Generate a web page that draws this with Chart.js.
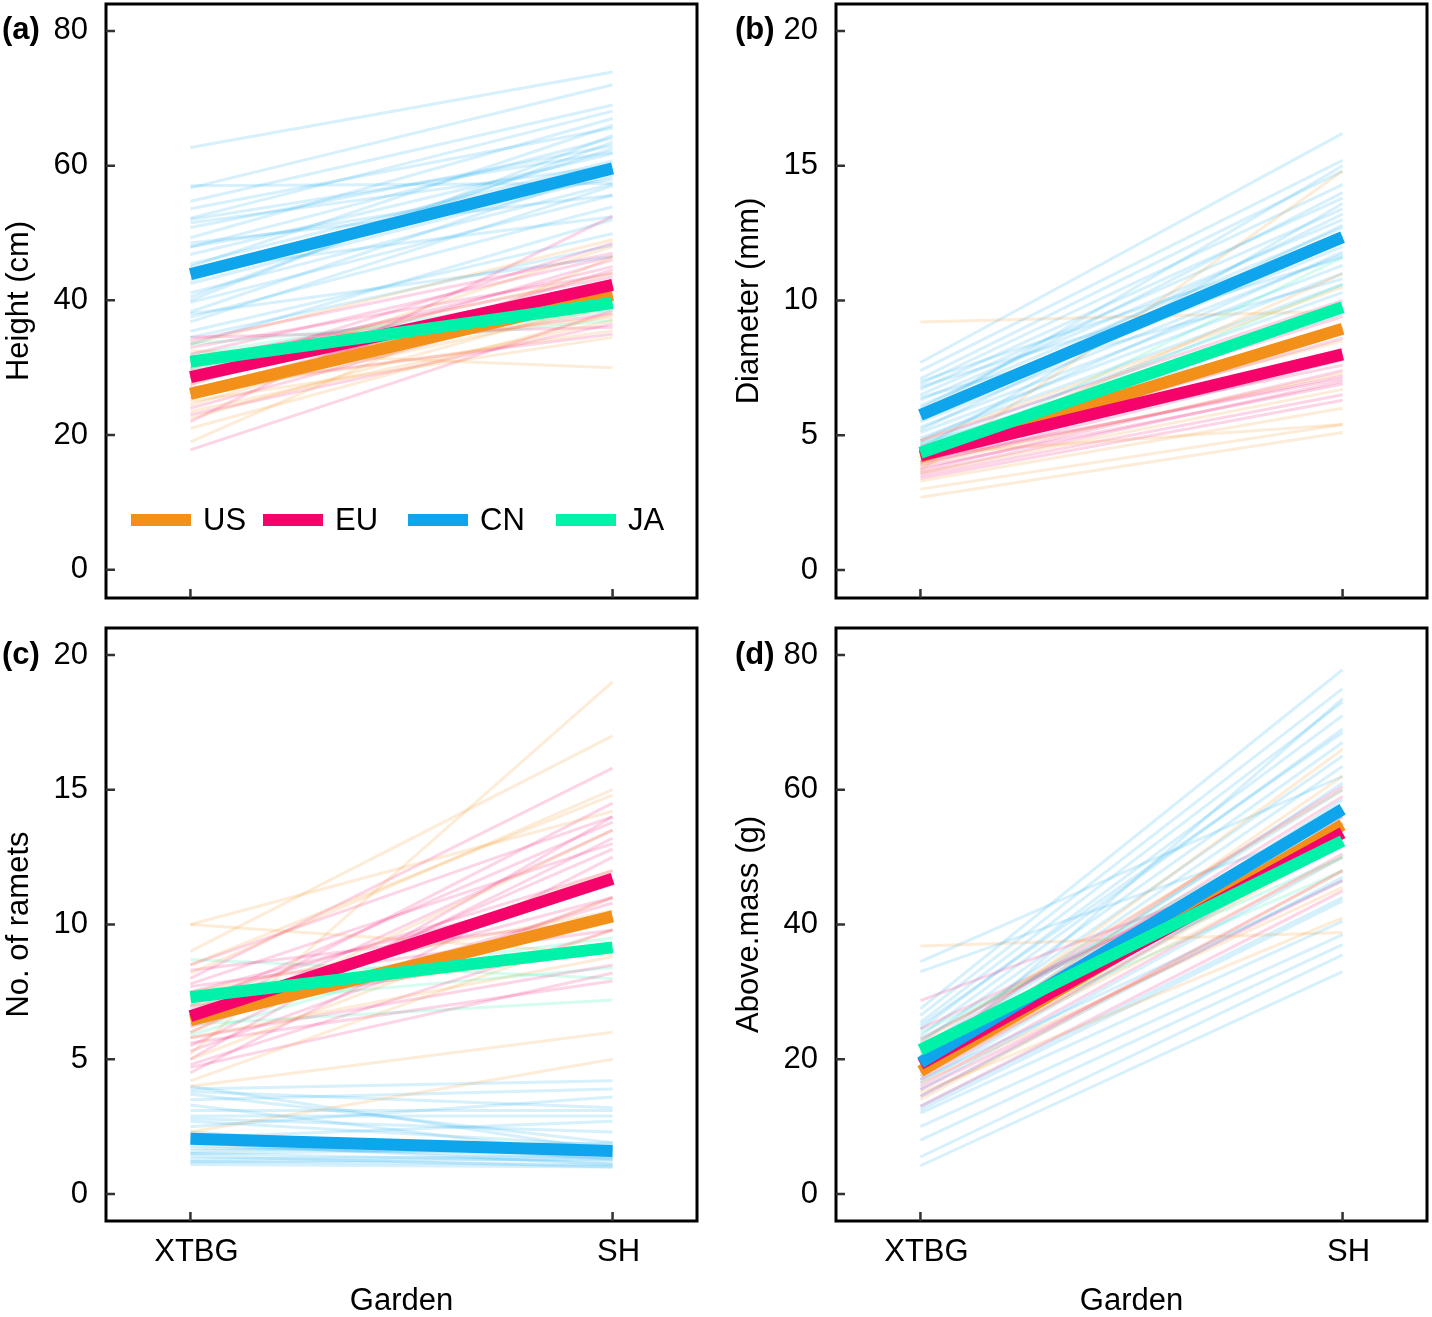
<!DOCTYPE html>
<html>
<head>
<meta charset="utf-8">
<script src="https://cdn.jsdelivr.net/npm/chart.js@4.4.0/dist/chart.umd.min.js"></script>
<style>
body { margin: 0; background: #fff; }
#wrap { position: relative; width: 1432px; height: 1317px; }
canvas { position: absolute; }
</style>
</head>
<body>
<div id="wrap">
  <canvas id="pa" width="716" height="616" style="left:0;top:0"></canvas>
  <canvas id="pb" width="702" height="616" style="left:730px;top:0"></canvas>
  <canvas id="pc" width="716" height="701" style="left:0;top:616px"></canvas>
  <canvas id="pd" width="702" height="701" style="left:730px;top:616px"></canvas>
</div>
<script>
const gardens = ['XTBG', 'SH'];
const groups = ['US', 'EU', 'CN', 'JA'];
const groupColors = ['#F39019', '#F5036B', '#0EA5EC', '#00F2A9'];
const thinColors = ['rgba(243,144,25,0.17)', 'rgba(245,3,107,0.17)', 'rgba(14,165,236,0.17)', 'rgba(0,242,169,0.17)'];
const meanOrder = [4, 3, 2, 1];

// (a) Height (cm): [XTBG, SH] per genotype
const heightUS = [[19.0,46.5],[21.0,38.0],[22.5,40.0],[23.5,37.0],[24.5,42.5],[25.5,39.0],[26.5,35.5],[27.5,48.0],
  [28.5,41.5],[30.0,44.0],[31.0,37.5],[32.5,30.0],[33.5,49.0],[25.0,34.5],[29.0,39.5]];
const heightEU = [[17.8,38.5],[22.0,52.5],[24.0,41.0],[25.5,44.5],[26.5,43.0],[27.5,46.0],[28.5,42.0],[29.0,48.5],
  [30.0,45.0],[31.0,43.5],[32.0,46.5],[33.0,44.0],[34.0,47.0],[34.5,36.0],[27.0,35.0],[29.5,38.0],[23.0,36.5],[31.5,41.0]];
const heightCN = [[62.7,73.9],[56.7,72.0],[57.0,57.4],[54.7,69.0],[53.6,65.6],[52.2,68.1],[51.5,60.0],[50.8,63.0],
  [49.3,67.0],[48.5,55.6],[47.9,64.1],[46.8,61.8],[45.4,60.7],[44.5,52.4],[43.0,62.5],[42.5,58.5],[41.1,57.3],
  [40.5,63.5],[39.7,55.6],[38.3,59.5],[37.5,53.9],[36.8,57.0],[35.4,49.9],[34.5,48.2],[33.5,52.0],[40.0,64.5],
  [45.0,66.0],[48.0,58.0],[52.0,62.0],[38.0,46.5]];
const heightJA = [[30.0,38.5],[32.0,41.5],[33.5,39.0],[29.5,42.0],[31.5,37.0]];
const heightMeans = [[26.1,40.8],[28.6,42.3],[43.9,59.6],[30.9,39.6]];
const heightTicks = [0, 20, 40, 60, 80];

// (b) Diameter (mm)
const diamUS = [[9.2,9.6],[2.7,5.1],[3.0,5.4],[3.3,6.0],[4.3,5.4],[3.7,14.8],[4.0,11.0],[3.9,7.3],[4.5,8.5],
  [4.2,9.9],[3.6,6.7],[4.8,10.5]];
const diamEU = [[3.5,6.5],[3.6,7.0],[3.7,7.4],[3.8,6.9],[3.9,7.8],[4.0,8.2],[4.1,7.1],[4.2,8.6],[4.3,9.0],
  [4.4,7.6],[4.5,9.4],[4.6,8.0],[3.4,6.3],[4.8,10.0],[4.0,7.2]];
const diamCN = [[7.7,16.2],[7.4,15.2],[7.1,14.8],[6.9,14.3],[6.7,13.8],[6.5,13.4],[6.3,13.0],[6.1,12.7],[5.9,12.4],
  [5.7,12.0],[5.5,11.7],[5.3,11.3],[5.1,11.0],[4.9,10.6],[4.7,10.3],[4.5,13.6],[6.8,11.6],[6.0,14.0],[5.2,12.8],
  [7.0,12.2],[4.8,11.8],[6.4,10.8],[5.6,13.2],[4.6,9.8],[5.8,15.0]];
const diamJA = [[4.4,9.5],[4.2,10.6],[4.7,9.0],[4.0,11.6]];
const diamMeans = [[4.2,8.95],[4.25,8.0],[5.75,12.35],[4.35,9.75]];
const diamTicks = [0, 5, 10, 15, 20];

// (c) No. of ramets
const rametUS = [[10.0,14.2],[10.0,8.9],[9.0,17.0],[5.2,19.0],[4.0,6.0],[2.3,5.0],[8.2,15.0],[5.0,11.0],[6.0,13.5],
  [7.0,9.0],[5.8,8.8],[6.5,12.0],[4.2,9.8],[7.5,10.5],[8.5,14.8]];
const rametEU = [[4.5,12.5],[4.8,9.8],[5.0,14.0],[5.3,11.0],[5.5,13.2],[5.8,8.5],[6.0,12.8],[6.2,10.8],[6.5,14.5],
  [6.7,9.3],[7.0,13.8],[7.2,12.0],[7.5,11.5],[7.8,13.0],[8.0,15.8],[8.3,10.2],[8.5,14.0],[5.6,7.9],[6.9,11.0],
  [7.7,9.8],[4.7,8.2],[6.3,13.5]];
const rametCN = [[4.0,1.6],[3.9,4.2],[3.7,1.9],[3.5,3.9],[3.3,1.4],[3.1,3.1],[2.9,2.9],[2.7,1.8],[2.5,3.6],[2.3,1.3],
  [2.1,2.7],[1.9,1.1],[1.7,1.5],[1.6,1.9],[1.5,1.2],[1.4,1.0],[1.3,1.4],[1.2,1.1],[1.1,1.0],[3.8,3.2],[2.8,2.3],
  [1.8,1.3],[1.5,1.7],[1.2,1.3]];
const rametJA = [[8.7,8.0],[6.3,7.2],[7.5,9.5],[7.0,8.4],[5.9,10.5]];
const rametMeans = [[6.45,10.3],[6.6,11.7],[2.05,1.6],[7.3,9.15]];
const rametTicks = [0, 5, 10, 15, 20];

// (d) Above.mass (g)
const massUS = [[36.8,38.8],[15.0,41.0],[16.5,45.5],[18.0,50.0],[20.0,66.0],[21.0,55.0],[22.5,60.0],[14.0,48.0],
  [19.0,62.0],[17.5,52.0]];
const massEU = [[28.7,52.0],[13.0,45.0],[14.5,48.0],[16.0,50.5],[17.0,53.0],[18.0,55.0],[19.0,57.0],[20.0,59.0],
  [21.5,60.5],[23.0,56.0],[24.5,54.0],[15.5,46.5]];
const massCN = [[4.2,33.0],[5.5,35.5],[8.0,37.0],[10.0,38.5],[12.0,40.5],[13.0,44.0],[14.5,47.0],[15.5,50.0],
  [16.5,53.0],[17.5,56.0],[18.5,58.5],[19.5,61.0],[20.5,63.5],[21.5,65.0],[22.5,67.0],[23.5,69.0],[24.5,71.0],
  [25.5,73.0],[26.5,75.0],[27.5,77.8],[33.0,55.0],[34.5,62.0],[21.0,60.0],[17.0,46.5],[12.5,43.5],[25.0,68.5],[19.0,73.5]];
const massJA = [[22.0,50.0],[24.0,54.0],[20.5,48.0],[23.0,57.0]];
const massMeans = [[18.2,54.8],[19.3,53.6],[19.5,57.1],[21.4,52.4]];
const massTicks = [0, 20, 40, 60, 80];

const FONT = '"Liberation Sans", Arial, sans-serif';

function buildSets(thin, means) {
  const sets = [];
  thin.forEach((rows, g) => rows.forEach(r => sets.push({
    data: [{x: 0, y: r[0]}, {x: 1, y: r[1]}],
    borderColor: thinColors[g], borderWidth: 3, order: 10
  })));
  means.forEach((r, g) => sets.push({
    label: groups[g],
    data: [{x: 0, y: r[0]}, {x: 1, y: r[1]}],
    borderColor: groupColors[g], borderWidth: 12, order: meanOrder[g]
  }));
  return sets;
}

const decor = {
  id: 'decor',
  afterDatasetsDraw(chart, args, opts) {
    const {ctx, chartArea: a, scales} = chart;
    ctx.save();
    ctx.strokeStyle = '#000';
    ctx.lineWidth = 3;
    ctx.strokeRect(a.left, a.top, a.right - a.left, a.bottom - a.top);
    ctx.strokeStyle = '#333';
    ctx.lineWidth = 2.5;
    ctx.beginPath();
    scales.y.ticks.forEach(t => {
      const y = scales.y.getPixelForValue(t.value);
      ctx.moveTo(a.left, y); ctx.lineTo(a.left + 9, y);
    });
    scales.x.ticks.forEach(t => {
      const x = scales.x.getPixelForValue(t.value);
      ctx.moveTo(x, a.bottom); ctx.lineTo(x, a.bottom - 9);
    });
    ctx.stroke();

    const ticks = scales.y.ticks;
    ctx.fillStyle = '#000';
    ctx.font = 'bold 31px ' + FONT;
    ctx.textAlign = 'left';
    ctx.textBaseline = 'middle';
    ctx.fillText(opts.tag, opts.tagX, scales.y.getPixelForValue(ticks[ticks.length - 1].value));

    if (opts.legend) {
      const y = a.bottom - 78;
      const starts = [25, 157, 302, 450];
      ctx.font = '31px ' + FONT;
      groups.forEach((g, i) => {
        const x0 = a.left + starts[i];
        ctx.strokeStyle = groupColors[i];
        ctx.lineWidth = 12;
        ctx.beginPath();
        ctx.moveTo(x0, y); ctx.lineTo(x0 + 60, y);
        ctx.stroke();
        ctx.fillText(g, x0 + 72, y + 1);
      });
    }
    ctx.restore();
  }
};

function makeChart(id, cfg) {
  return new Chart(document.getElementById(id), {
    type: 'line',
    data: { datasets: buildSets(cfg.thin, cfg.means) },
    options: {
      responsive: false,
      animation: false,
      layout: { padding: { top: cfg.padTop, right: cfg.padRight, left: 0, bottom: 0 } },
      elements: { point: { radius: 0 }, line: { tension: 0, borderCapStyle: 'butt' } },
      plugins: {
        legend: { display: false },
        tooltip: { enabled: false },
        decor: { tag: cfg.tag, tagX: cfg.tagX, legend: cfg.legend }
      },
      scales: {
        x: {
          type: 'linear', min: -0.2, max: 1.2,
          afterBuildTicks: s => { s.ticks = [0, 1].map(v => ({ value: v })); },
          afterFit: s => { s.height = cfg.xHeight; s.paddingLeft = 0; s.paddingRight = 0; },
          grid: { display: false, drawTicks: false },
          border: { display: false },
          ticks: {
            display: cfg.bottom, autoSkip: false, maxRotation: 0, padding: 13, labelOffset: 6,
            color: '#000', font: { family: FONT, size: 31 },
            callback: v => gardens[v]
          },
          title: {
            display: cfg.bottom, text: 'Garden', color: '#000', padding: 0,
            font: { family: FONT, size: 31, lineHeight: 1 }
          }
        },
        y: {
          type: 'linear', min: cfg.min, max: cfg.max,
          afterBuildTicks: s => { s.ticks = cfg.ticks.map(v => ({ value: v })); },
          afterFit: s => { s.width = 106; s.paddingTop = 0; s.paddingBottom = 0; },
          grid: { display: false, drawTicks: false },
          border: { display: false },
          ticks: { padding: 18, color: '#000', font: { family: FONT, size: 31 } },
          title: {
            display: true, text: cfg.title, color: '#000', padding: { top: 4, bottom: 0 },
            font: { family: FONT, size: 31, lineHeight: 1 }
          }
        }
      }
    },
    plugins: [decor]
  });
}

makeChart('pa', { thin: [heightUS, heightEU, heightCN, heightJA], means: heightMeans, ticks: heightTicks,
  min: -4.2, max: 84, title: 'Height (cm)', tag: '(a)', tagX: 2, legend: true,
  padTop: 4, padRight: 19, xHeight: 18, bottom: false });
makeChart('pb', { thin: [diamUS, diamEU, diamCN, diamJA], means: diamMeans, ticks: diamTicks,
  min: -1.04, max: 21, title: 'Diameter (mm)', tag: '(b)', tagX: 5, legend: false,
  padTop: 4, padRight: 5, xHeight: 18, bottom: false });
makeChart('pc', { thin: [rametUS, rametEU, rametCN, rametJA], means: rametMeans, ticks: rametTicks,
  min: -1.0, max: 21, title: 'No. of ramets', tag: '(c)', tagX: 2, legend: false,
  padTop: 12, padRight: 19, xHeight: 96, bottom: true });
makeChart('pd', { thin: [massUS, massEU, massCN, massJA], means: massMeans, ticks: massTicks,
  min: -4, max: 84, title: 'Above.mass (g)', tag: '(d)', tagX: 5, legend: false,
  padTop: 12, padRight: 5, xHeight: 96, bottom: true });
</script>
</body>
</html>
